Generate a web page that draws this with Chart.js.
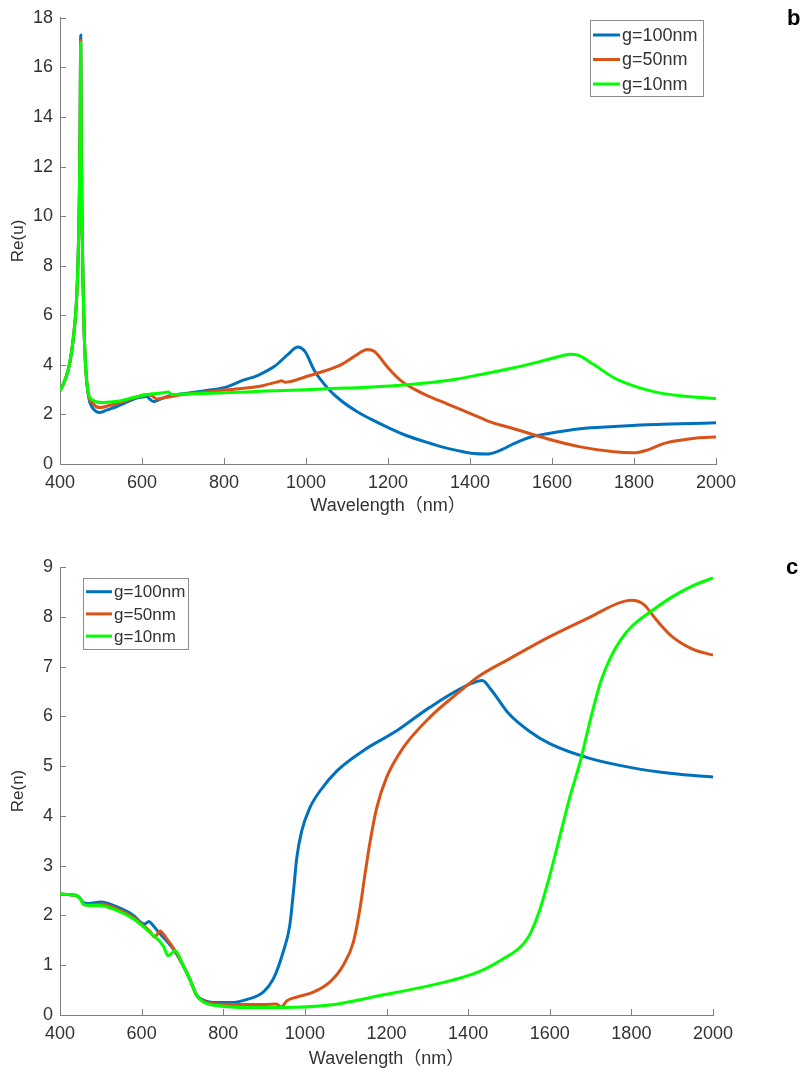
<!DOCTYPE html>
<html>
<head>
<meta charset="utf-8">
<title>Re(u) / Re(n)</title>
<script src="https://cdn.jsdelivr.net/npm/chart.js@4.4.1/dist/chart.umd.min.js"></script>
<style>
  body { margin: 0; background: #fff; }
  #wrap { position: relative; width: 803px; height: 1074px; }
  canvas { position: absolute; left: 0; }
  #cu { top: 0; }
  #cn { top: 540px; }
  .tag { position: absolute; font: bold 22px "Liberation Sans", Arial, sans-serif; line-height: 22px; color: #000; }
</style>
</head>
<body>
<div id="wrap">
  <canvas id="cu" width="803" height="530"></canvas>
  <canvas id="cn" width="803" height="534"></canvas>
  <div class="tag" style="left:787px;top:7px">b</div>
  <div class="tag" style="left:786px;top:556px">c</div>
</div>
<script>
// ---- data ----
const seriesNames = ['g=100nm', 'g=50nm', 'g=10nm'];
const xTicks = [400, 600, 800, 1000, 1200, 1400, 1600, 1800, 2000];
const uTicks = [0, 2, 4, 6, 8, 10, 12, 14, 16, 18];
const nTicks = [0, 1, 2, 3, 4, 5, 6, 7, 8, 9];

// Re(u), panel b
const uWl100 = [400, 410, 420, 428, 434, 440, 444, 447, 449, 450.5, 452, 454, 456, 459, 463, 470, 478, 488, 498, 515, 540, 560, 580, 600, 612, 620, 628, 640, 660, 700, 750, 800, 847, 883, 924, 956, 980, 997, 1021, 1053, 1086, 1126, 1167, 1207, 1248, 1288, 1329, 1370, 1410, 1440, 1475, 1507, 1548, 1588, 1669, 1751, 1832, 1913, 2000];
const uRe100 = [2.95, 3.3, 3.8, 4.5, 5.3, 6.5, 8.2, 10.5, 13.5, 17.3, 12.5, 9.5, 7.5, 5.3, 3.8, 2.68, 2.3, 2.12, 2.08, 2.18, 2.33, 2.48, 2.62, 2.7, 2.72, 2.6, 2.52, 2.58, 2.72, 2.83, 2.95, 3.08, 3.38, 3.58, 3.95, 4.42, 4.72, 4.55, 3.75, 3.06, 2.55, 2.1, 1.74, 1.42, 1.13, 0.91, 0.7, 0.54, 0.42, 0.40, 0.56, 0.82, 1.09, 1.22, 1.42, 1.51, 1.58, 1.62, 1.66];

const uWl50 = [400, 410, 420, 428, 434, 440, 444, 447, 449, 450.5, 452, 454, 456, 459, 463, 470, 480, 490, 500, 520, 540, 580, 612, 625, 636, 657, 701, 782, 843, 891, 932, 940, 950, 1005, 1045, 1086, 1118, 1150, 1167, 1200, 1232, 1264, 1297, 1345, 1394, 1426, 1451, 1507, 1588, 1669, 1751, 1799, 1832, 1872, 1913, 1953, 2000];
const uRe50 = [2.95, 3.3, 3.8, 4.5, 5.3, 6.5, 8.2, 10.5, 13.5, 17.1, 12.5, 9.5, 7.5, 5.3, 3.8, 2.75, 2.45, 2.3, 2.28, 2.36, 2.45, 2.66, 2.8, 2.75, 2.62, 2.68, 2.8, 2.95, 3.05, 3.15, 3.32, 3.36, 3.3, 3.55, 3.75, 4.01, 4.34, 4.62, 4.54, 3.88, 3.35, 3.02, 2.75, 2.42, 2.08, 1.86, 1.69, 1.42, 1.02, 0.69, 0.49, 0.45, 0.56, 0.82, 0.96, 1.05, 1.09];

const uWl10 = [400, 410, 420, 428, 434, 440, 444, 447, 449, 450.5, 452, 454, 456, 459, 463, 470, 480, 490, 500, 520, 540, 580, 620, 645, 665, 672, 700, 800, 900, 1000, 1053, 1150, 1248, 1350, 1426, 1507, 1572, 1620, 1645, 1665, 1702, 1751, 1799, 1848, 1913, 2000];
const uRe10 = [2.95, 3.3, 3.8, 4.5, 5.3, 6.5, 8.2, 10.5, 13.5, 17.0, 12.5, 9.5, 7.5, 5.3, 3.8, 2.8, 2.58, 2.5, 2.48, 2.5, 2.53, 2.68, 2.82, 2.86, 2.9, 2.8, 2.82, 2.87, 2.94, 3.0, 3.04, 3.1, 3.2, 3.38, 3.61, 3.88, 4.14, 4.35, 4.43, 4.38, 4.01, 3.48, 3.15, 2.92, 2.75, 2.64];

// Re(n), panel c
const nWl100 = [400, 420, 440, 450, 458, 470, 500, 540, 580, 600, 608, 618, 626, 640, 660, 680, 702, 718, 735, 751, 784, 817, 857, 898, 923, 947, 963, 972, 980, 992, 1012, 1037, 1078, 1143, 1225, 1306, 1405, 1435, 1455, 1500, 1550, 1600, 1700, 1800, 1900, 2000];
const nRe100 = [2.43, 2.42, 2.4, 2.34, 2.25, 2.24, 2.27, 2.17, 2.0, 1.85, 1.83, 1.88, 1.82, 1.68, 1.5, 1.3, 0.99, 0.72, 0.4, 0.3, 0.25, 0.25, 0.31, 0.46, 0.73, 1.27, 1.8, 2.48, 3.15, 3.69, 4.16, 4.5, 4.9, 5.31, 5.71, 6.18, 6.65, 6.72, 6.55, 6.05, 5.7, 5.45, 5.15, 4.97, 4.85, 4.78];

const nWl50 = [400, 420, 440, 450, 458, 470, 500, 540, 580, 600, 620, 633, 638, 645, 660, 682, 702, 718, 735, 751, 784, 850, 900, 930, 943, 955, 980, 1021, 1061, 1094, 1119, 1135, 1147, 1160, 1176, 1200, 1241, 1306, 1372, 1429, 1500, 1600, 1700, 1770, 1800, 1830, 1860, 1900, 1950, 2000];
const nRe50 = [2.43, 2.42, 2.4, 2.33, 2.22, 2.21, 2.23, 2.13, 1.96, 1.83, 1.68, 1.56, 1.62, 1.69, 1.55, 1.29, 0.99, 0.72, 0.39, 0.28, 0.22, 0.21, 0.21, 0.22, 0.16, 0.28, 0.36, 0.46, 0.66, 1.0, 1.47, 2.14, 2.81, 3.49, 4.16, 4.77, 5.37, 5.98, 6.45, 6.82, 7.15, 7.6, 8.0, 8.28, 8.33, 8.25, 7.95, 7.6, 7.35, 7.23];

const nWl10 = [400, 420, 440, 450, 458, 473, 498, 539, 580, 620, 653, 665, 682, 702, 718, 735, 751, 784, 866, 943, 1061, 1184, 1306, 1388, 1430, 1480, 1530, 1550, 1575, 1600, 1625, 1650, 1675, 1700, 1725, 1750, 1775, 1800, 1850, 1900, 1950, 2000];
const nRe10 = [2.43, 2.42, 2.4, 2.33, 2.22, 2.2, 2.2, 2.1, 1.93, 1.66, 1.39, 1.19, 1.29, 0.99, 0.72, 0.39, 0.26, 0.19, 0.15, 0.15, 0.2, 0.39, 0.59, 0.76, 0.88, 1.1, 1.38, 1.6, 2.1, 2.8, 3.6, 4.4, 5.1, 5.95, 6.7, 7.2, 7.55, 7.8, 8.12, 8.4, 8.62, 8.78];

// ---- styling ----
const colors = ['#0072BD', '#D95319', '#00FF00'];
const family = '"Liberation Sans", Arial, "Noto Sans CJK SC", sans-serif';
const axisGray = '#808080';
const textGray = '#333333';

// little tick marks pointing into the plot, like matlab
const innerTicks = {
  id: 'innerTicks',
  beforeDatasetsDraw(chart) {
    const { ctx, chartArea, scales } = chart;
    ctx.save();
    ctx.strokeStyle = axisGray;
    ctx.lineWidth = 1;
    ctx.beginPath();
    scales.x.ticks.forEach(t => {
      const px = Math.round(scales.x.getPixelForValue(t.value)) + 0.5;
      ctx.moveTo(px, chartArea.bottom);
      ctx.lineTo(px, chartArea.bottom - 6);
    });
    scales.y.ticks.forEach(t => {
      const py = Math.round(scales.y.getPixelForValue(t.value)) + 0.5;
      ctx.moveTo(chartArea.left, py);
      ctx.lineTo(chartArea.left + 6, py);
    });
    ctx.stroke();
    ctx.restore();
  }
};

// legend with a box round it
const boxLegend = {
  id: 'boxLegend',
  afterDraw(chart, args, o) {
    const ctx = chart.ctx;
    ctx.save();
    ctx.fillStyle = '#fff';
    ctx.fillRect(o.x, o.y, o.w, o.h);
    ctx.strokeStyle = '#8c8c8c';
    ctx.lineWidth = 1;
    ctx.strokeRect(o.x + 0.5, o.y + 0.5, o.w, o.h);
    ctx.font = o.size + 'px ' + family;
    ctx.textBaseline = 'middle';
    chart.data.datasets.forEach((ds, i) => {
      const cy = o.y + o.first + i * o.row;
      ctx.strokeStyle = ds.borderColor;
      ctx.lineWidth = 3;
      ctx.beginPath();
      ctx.moveTo(o.x + 3, cy);
      ctx.lineTo(o.x + 3 + o.line, cy);
      ctx.stroke();
      ctx.fillStyle = textGray;
      ctx.fillText(ds.label, o.x + 5 + o.line, cy + 1);
    });
    ctx.restore();
  }
};

function makeChart(id, yTitle, yTicks, series, opt) {
  return new Chart(document.getElementById(id), {
    type: 'line',
    data: {
      datasets: series.map((s, i) => ({
        label: seriesNames[i],
        data: s[0].map((w, k) => ({ x: w, y: s[1][k] })),
        borderColor: colors[i],
        borderWidth: 3,
        pointRadius: 0,
        fill: false,
        cubicInterpolationMode: 'monotone',
        order: 2 - i
      }))
    },
    options: {
      responsive: false,
      animation: false,
      layout: { padding: opt.pad },
      plugins: {
        legend: { display: false },
        tooltip: { enabled: false },
        boxLegend: opt.legend
      },
      scales: {
        x: {
          type: 'linear',
          min: 400,
          max: 2000,
          afterBuildTicks: s => { s.ticks = xTicks.map(v => ({ value: v })); },
          afterFit: s => { s.height = 56; },
          grid: { display: false, drawTicks: false },
          border: { display: true, color: axisGray, width: 1 },
          ticks: { color: textGray, font: { family, size: 18 }, padding: 8, maxRotation: 0, autoSkip: false, callback: v => String(v) },
          title: { display: true, text: 'Wavelength（nm）', color: textGray, font: { family, size: 18 }, padding: { top: 0, bottom: opt.titleGap } }
        },
        y: {
          type: 'linear',
          min: 0,
          max: yTicks[yTicks.length - 1],
          afterBuildTicks: s => { s.ticks = yTicks.map(v => ({ value: v })); },
          afterFit: s => { s.width = 52; },
          grid: { display: false, drawTicks: false },
          border: { display: true, color: axisGray, width: 1 },
          ticks: { color: textGray, font: { family, size: 18 }, padding: 7, autoSkip: false, callback: v => String(v) },
          title: { display: true, text: yTitle, color: textGray, font: { family, size: 17 }, padding: { top: 0, bottom: 0 } }
        }
      }
    },
    plugins: [innerTicks, boxLegend]
  });
}

makeChart('cu', 'Re(u)', uTicks,
  [[uWl100, uRe100], [uWl50, uRe50], [uWl10, uRe10]],
  {
    pad: { left: 8, right: 87, top: 13, bottom: 10 },
    titleGap: 3,
    legend: { x: 590, y: 20, w: 113, h: 76, first: 15, row: 24.5, line: 27, size: 18 }
  });

makeChart('cn', 'Re(n)', nTicks,
  [[nWl100, nRe100], [nWl50, nRe50], [nWl10, nRe10]],
  {
    pad: { left: 8, right: 90, top: 27, bottom: 3 },
    titleGap: 1,
    legend: { x: 83, y: 38, w: 105, h: 71, first: 13.7, row: 22.2, line: 26, size: 17 }
  });
</script>
</body>
</html>
